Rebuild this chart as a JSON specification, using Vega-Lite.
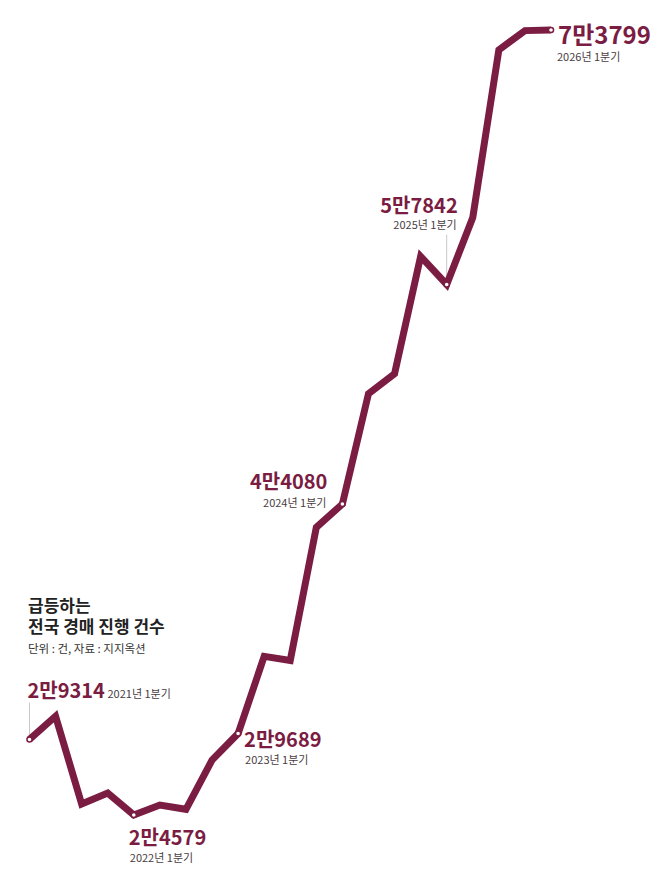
{
  "$schema": "https://vega.github.io/schema/vega-lite/v6.json",
  "width": 658,
  "height": 887,
  "autosize": "none",
  "padding": 0,
  "background": "white",
  "config": {"view": {"stroke": null}, "font": "Noto Sans CJK KR"},
  "title": {
    "text": ["급등하는", "전국 경매 진행 건수"],
    "subtitle": "단위 : 건, 자료 : 지지옥션",
    "anchor": "start",
    "font": "Noto Sans CJK KR",
    "fontSize": 17,
    "fontWeight": "bold",
    "lineHeight": 21,
    "color": "#222222",
    "subtitleFont": "Noto Sans CJK KR",
    "subtitleFontSize": 11.5,
    "subtitleColor": "#333333",
    "subtitlePadding": 7,
    "dx": 28,
    "dy": 660
  },
  "data": {
    "values": [
      {"quarter": "2021년 1분기", "count": 29314, "key": true},
      {"quarter": "2021년 2분기", "count": 30770, "key": false},
      {"quarter": "2021년 3분기", "count": 25267, "key": false},
      {"quarter": "2021년 4분기", "count": 25955, "key": false},
      {"quarter": "2022년 1분기", "count": 24579, "key": true},
      {"quarter": "2022년 2분기", "count": 25204, "key": false},
      {"quarter": "2022년 3분기", "count": 24935, "key": false},
      {"quarter": "2022년 4분기", "count": 28019, "key": false},
      {"quarter": "2023년 1분기", "count": 29689, "key": true},
      {"quarter": "2023년 2분기", "count": 34523, "key": false},
      {"quarter": "2023년 3분기", "count": 34272, "key": false},
      {"quarter": "2023년 4분기", "count": 42609, "key": false},
      {"quarter": "2024년 1분기", "count": 44080, "key": true},
      {"quarter": "2024년 2분기", "count": 50989, "key": false},
      {"quarter": "2024년 3분기", "count": 52240, "key": false},
      {"quarter": "2024년 4분기", "count": 59601, "key": false},
      {"quarter": "2025년 1분기", "count": 57842, "key": true},
      {"quarter": "2025년 2분기", "count": 62040, "key": false},
      {"quarter": "2025년 3분기", "count": 72550, "key": false},
      {"quarter": "2025년 4분기", "count": 73760, "key": false},
      {"quarter": "2026년 1분기", "count": 73799, "key": true}
    ]
  },
  "transform": [
    {"calculate": "floor(datum.count / 10000) + '만' + (datum.count % 10000)", "as": "label"}
  ],
  "encoding": {
    "x": {
      "field": "quarter",
      "type": "ordinal",
      "sort": null,
      "scale": {
        "type": "point",
        "padding": 0,
        "range": [29.5, 551],
        "domain": ["2021년 1분기", "2021년 2분기", "2021년 3분기", "2021년 4분기", "2022년 1분기", "2022년 2분기", "2022년 3분기", "2022년 4분기", "2023년 1분기", "2023년 2분기", "2023년 3분기", "2023년 4분기", "2024년 1분기", "2024년 2분기", "2024년 3분기", "2024년 4분기", "2025년 1분기", "2025년 2분기", "2025년 3분기", "2025년 4분기", "2026년 1분기"]
      },
      "axis": null
    },
    "y": {
      "field": "count",
      "type": "quantitative",
      "scale": {"domain": [24579, 73799], "range": [815, 30], "zero": false, "nice": false},
      "axis": null
    }
  },
  "layer": [
    {
      "transform": [{"filter": {"field": "quarter", "equal": "2021년 1분기"}}],
      "mark": {"type": "rule", "color": "#c8c8c8", "strokeWidth": 1, "y2Offset": -37},
      "encoding": {"y2": {"field": "count"}}
    },
    {
      "transform": [{"filter": {"field": "quarter", "equal": "2025년 1분기"}}],
      "mark": {"type": "rule", "color": "#c8c8c8", "strokeWidth": 1, "y2Offset": -50},
      "encoding": {"y2": {"field": "count"}}
    },
    {
      "mark": {"type": "line", "color": "#7b1c42", "strokeWidth": 7, "strokeJoin": "miter", "strokeCap": "butt"},
      "encoding": {}
    },
    {
      "transform": [{"filter": "datum.key"}],
      "mark": {"type": "point", "filled": true, "fill": "white", "stroke": "#7b1c42", "strokeWidth": 1.5, "size": 26, "opacity": 1}
    },
    {
      "transform": [{"filter": {"field": "quarter", "equal": "2021년 1분기"}}],
      "layer": [
        {"mark": {"type": "text", "align": "left", "baseline": "alphabetic", "dx": -2, "dy": -41, "fontSize": 20, "fontWeight": "bold", "color": "#7b1c42"}, "encoding": {"text": {"field": "label"}}},
        {"mark": {"type": "text", "align": "left", "baseline": "alphabetic", "dx": 78, "dy": -41, "fontSize": 11, "color": "#4a3c42"}, "encoding": {"text": {"field": "quarter"}}}
      ]
    },
    {
      "transform": [{"filter": {"field": "quarter", "equal": "2022년 1분기"}}],
      "layer": [
        {"mark": {"type": "text", "align": "left", "baseline": "alphabetic", "dx": -5, "dy": 30, "fontSize": 20, "fontWeight": "bold", "color": "#7b1c42"}, "encoding": {"text": {"field": "label"}}},
        {"mark": {"type": "text", "align": "left", "baseline": "alphabetic", "dx": -4, "dy": 47, "fontSize": 11, "color": "#4a3c42"}, "encoding": {"text": {"field": "quarter"}}}
      ]
    },
    {
      "transform": [{"filter": {"field": "quarter", "equal": "2023년 1분기"}}],
      "layer": [
        {"mark": {"type": "text", "align": "left", "baseline": "alphabetic", "dx": 6, "dy": 13, "fontSize": 20, "fontWeight": "bold", "color": "#7b1c42"}, "encoding": {"text": {"field": "label"}}},
        {"mark": {"type": "text", "align": "left", "baseline": "alphabetic", "dx": 7, "dy": 30, "fontSize": 11, "color": "#4a3c42"}, "encoding": {"text": {"field": "quarter"}}}
      ]
    },
    {
      "transform": [{"filter": {"field": "quarter", "equal": "2024년 1분기"}}],
      "layer": [
        {"mark": {"type": "text", "align": "right", "baseline": "alphabetic", "dx": -15, "dy": -15, "fontSize": 20, "fontWeight": "bold", "color": "#7b1c42"}, "encoding": {"text": {"field": "label"}}},
        {"mark": {"type": "text", "align": "right", "baseline": "alphabetic", "dx": -16, "dy": 3, "fontSize": 11, "color": "#4a3c42"}, "encoding": {"text": {"field": "quarter"}}}
      ]
    },
    {
      "transform": [{"filter": {"field": "quarter", "equal": "2025년 1분기"}}],
      "layer": [
        {"mark": {"type": "text", "align": "right", "baseline": "alphabetic", "dx": 11, "dy": -71, "fontSize": 20, "fontWeight": "bold", "color": "#7b1c42"}, "encoding": {"text": {"field": "label"}}},
        {"mark": {"type": "text", "align": "right", "baseline": "alphabetic", "dx": 10, "dy": -55, "fontSize": 11, "color": "#4a3c42"}, "encoding": {"text": {"field": "quarter"}}}
      ]
    },
    {
      "transform": [{"filter": {"field": "quarter", "equal": "2026년 1분기"}}],
      "layer": [
        {"mark": {"type": "text", "align": "left", "baseline": "alphabetic", "dx": 7, "dy": 14, "fontSize": 24, "fontWeight": "bold", "color": "#7b1c42"}, "encoding": {"text": {"field": "label"}}},
        {"mark": {"type": "text", "align": "left", "baseline": "alphabetic", "dx": 6, "dy": 31, "fontSize": 11, "color": "#4a3c42"}, "encoding": {"text": {"field": "quarter"}}}
      ]
    }
  ]
}
